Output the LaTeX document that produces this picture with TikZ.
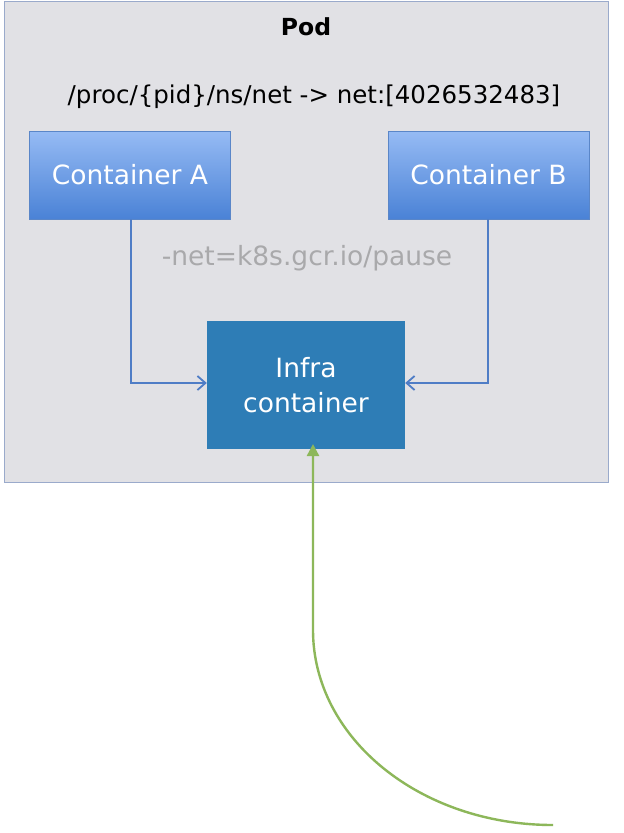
\documentclass[tikz,border=0pt]{standalone}
\usepackage{fontspec}
\setmainfont{DejaVu Sans}
\usetikzlibrary{arrows.meta}
\definecolor{podfill}{HTML}{E1E1E5}
\definecolor{podline}{HTML}{9AAACB}
\definecolor{ctop}{HTML}{96BBF4}
\definecolor{cbot}{HTML}{4A82D6}
\definecolor{cline}{HTML}{5A86C8}
\definecolor{infra}{HTML}{2E7DB6}
\definecolor{arrowblue}{HTML}{4F7DC6}
\definecolor{green}{HTML}{8DB75A}
\definecolor{graytext}{HTML}{A9A9AB}
\tikzset{
  cbox/.style={draw=cline, line width=0.8pt, top color=ctop, bottom color=cbot, minimum width=201pt, minimum height=88pt, text=white, font=\fontsize{26.5}{30}\selectfont, inner sep=0pt},
  ibox/.style={fill=infra, minimum width=198pt, minimum height=128pt, text=white, font=\fontsize{26.5}{35}\selectfont, align=center, inner sep=0pt},
  barrow/.style={draw=arrowblue, line width=1.8pt, -{Straight Barb[length=8pt,width=14pt,line width=1.8pt]}},
  garrow/.style={draw=green, line width=2.4pt, -{Triangle[length=12pt,width=12pt]}}
}
\begin{document}
\begin{tikzpicture}[x=1pt,y=-1pt]
\useasboundingbox (0,0) rectangle (624,833);
\fill[white] (0,0) rectangle (624,833);
\node[draw=podline, fill=podfill, line width=0.8pt, minimum width=604pt, minimum height=481pt, inner sep=0pt, anchor=north west] (pod) at (4,1) {};
\node[font=\bfseries\fontsize{23.5}{26}\selectfont] (podlabel) at (306,27) {Pod};
\node[font=\fontsize{24.5}{28}\selectfont] (path) at (314,97) {/proc/\{pid\}/ns/net -> net:[4026532483]};
\node[cbox] (A) at (130,175) {Container A};
\node[cbox] (B) at (488.5,175) {Container B};
\node[text=graytext, font=\fontsize{26.5}{30}\selectfont] (netlabel) at (307,258) {-net=k8s.gcr.io/pause};
\node[ibox] (I) at (306,385) {Infra\\container};
\coordinate (gstart) at (553,825);
\coordinate (gmid) at (313,630);
\coordinate (gtip) at (313,444);
\draw[barrow] (A.south -| 131,0) |- (I.west |- 0,383);
\draw[barrow] (B.south -| 488,0) |- (I.east |- 0,383);
\draw[garrow] (gstart) .. controls (420,825) and (313,738) .. (gmid) -- (gtip);
\end{tikzpicture}
\end{document}
